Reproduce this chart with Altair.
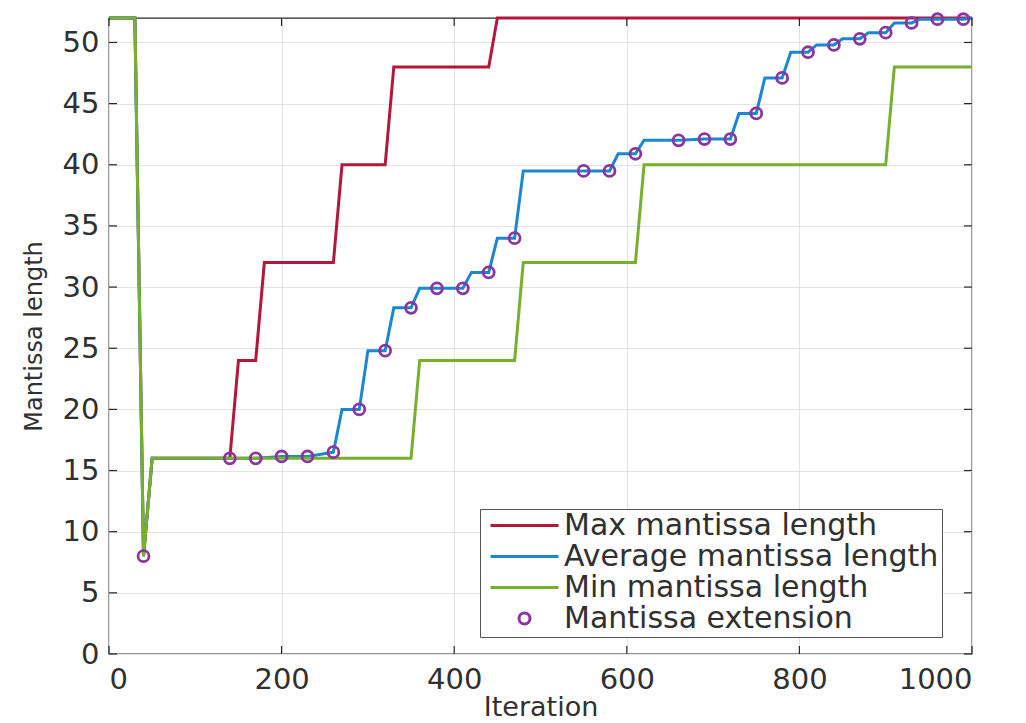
import altair as alt
import pandas as pd

# ---- data ----
max_x = [0, 30, 40, 50, 140, 150, 170, 180, 260, 270, 320, 330, 440, 450, 1000]
max_y = [52, 52, 8, 16, 16, 24, 24, 32, 32, 40, 40, 48, 48, 52, 52]

min_x = [0, 30, 40, 50, 350, 360, 470, 480, 610, 620, 900, 910, 1000]
min_y = [52, 52, 8, 16, 16, 24, 24, 32, 32, 40, 40, 48, 48]

avg_x = [0, 30, 40, 50, 140, 170, 200, 230, 260, 270, 290, 300, 320, 330, 350, 360,
         380, 410, 420, 440, 450, 470, 480, 550, 580, 590, 610, 620, 660, 690, 720,
         730, 750, 760, 780, 790, 810, 820, 840, 850, 870, 880, 900, 910, 930, 940,
         960, 990, 1000]
avg_y = [52, 52, 8, 16, 16, 16, 16.15, 16.15, 16.5, 20, 20, 24.8, 24.8, 28.3, 28.3, 29.9,
         29.9, 29.9, 31.2, 31.2, 34, 34, 39.5, 39.5, 39.5, 40.9, 40.9, 42, 42, 42.1, 42.1,
         44.2, 44.2, 47.1, 47.1, 49.2, 49.2, 49.8, 49.8, 50.3, 50.3, 50.8, 50.8, 51.6, 51.6, 51.9,
         51.9, 51.9, 52]

ext_x = [40, 140, 170, 200, 230, 260, 290, 320, 350, 380, 410, 440, 470, 550, 580, 610,
         660, 690, 720, 750, 780, 810, 840, 870, 900, 930, 960, 990]
ext_y = [8, 16, 16, 16.15, 16.15, 16.5, 20, 24.8, 28.3, 29.9, 29.9, 31.2, 34, 39.5, 39.5, 40.9,
         42, 42.1, 42.1, 44.2, 47.1, 49.2, 49.8, 50.3, 50.8, 51.6, 51.9, 51.9]

series_names = ["Max mantissa length", "Average mantissa length",
                "Min mantissa length", "Mantissa extension"]
series_colors = ["#b3173c", "#1b87d1", "#77b02f", "#8b35a0"]
legend_shapes = ["stroke", "stroke", "stroke", "circle"]
legend_sizes = [4624, 4624, 4624, 120]

x_ticks = [0, 200, 400, 600, 800, 1000]
y_ticks = [0, 5, 10, 15, 20, 25, 30, 35, 40, 45, 50]

W, H = 863, 636
FONT = "DejaVu Sans"
AX = "#262626"
TXT = "#303030"


def frame(xs, ys, name):
    return pd.DataFrame({"x": xs, "y": ys, "series": name})


df_max = frame(max_x, max_y, series_names[0])
df_avg = frame(avg_x, avg_y, series_names[1])
df_min = frame(min_x, min_y, series_names[2])
df_ext = frame(ext_x, ext_y, series_names[3])

xs = alt.Scale(domain=[0, 1000], nice=False, zero=False)
ys = alt.Scale(domain=[0, 52], nice=False, zero=False)

leg = alt.Legend(
    title=None, orient="none", legendX=371, legendY=491,
    direction="vertical", columns=1,
    symbolType="stroke", symbolStrokeWidth=3, symbolSize=4624,
    labelFont=FONT, labelFontSize=30, labelColor=TXT, labelOffset=4,
    labelLimit=600,
    padding=3, clipHeight=27, rowPadding=0, symbolOffset=6,
    strokeColor="#555555", fillColor="white",
)

color = alt.Color("series:N", scale=alt.Scale(domain=series_names, range=series_colors),
                  legend=leg)

xenc = alt.X("x:Q", scale=xs,
             axis=alt.Axis(values=x_ticks, title="Iteration", grid=True, ticks=False,
                           domain=False, labelPadding=11, titlePadding=0,
                           labelFontSize=29, titleFontSize=27, format="d"))
yenc = alt.Y("y:Q", scale=ys,
             axis=alt.Axis(values=y_ticks, title="Mantissa length", grid=True, ticks=False,
                           domain=False, labelPadding=10, titlePadding=16,
                           labelFontSize=29, titleFontSize=24))


def line_layer(df):
    return alt.Chart(df).mark_line(strokeWidth=3).encode(x=xenc, y=yenc, color=color)


points = alt.Chart(df_ext).mark_point(filled=False, strokeWidth=2.8, opacity=1).encode(
    x=alt.X("x:Q", scale=xs),
    y=alt.Y("y:Q", scale=ys),
    color=color,
    shape=alt.Shape("series:N", scale=alt.Scale(domain=series_names, range=legend_shapes),
                    legend=leg),
    size=alt.Size("series:N", scale=alt.Scale(type="ordinal", domain=series_names,
                                               range=legend_sizes),
                  legend=leg),
)

df_xt = pd.DataFrame({"v": x_ticks})
df_yt = pd.DataFrame({"v": y_ticks})
TL = 8
tick_style = dict(color=AX, strokeWidth=1.2)
xt_bottom = alt.Chart(df_xt).mark_rule(**tick_style).encode(
    x=alt.X("v:Q", scale=xs), y=alt.value(H - TL), y2=alt.value(H))
xt_top = alt.Chart(df_xt).mark_rule(**tick_style).encode(
    x=alt.X("v:Q", scale=xs), y=alt.value(0), y2=alt.value(TL))
yt_left = alt.Chart(df_yt).mark_rule(**tick_style).encode(
    y=alt.Y("v:Q", scale=ys), x=alt.value(0), x2=alt.value(TL))
yt_right = alt.Chart(df_yt).mark_rule(**tick_style).encode(
    y=alt.Y("v:Q", scale=ys), x=alt.value(W - TL), x2=alt.value(W))

chart = alt.layer(
    line_layer(df_max), line_layer(df_avg), line_layer(df_min), points,
    xt_bottom, xt_top, yt_left, yt_right,
).properties(
    width=W, height=H,
    autosize=alt.AutoSizeParams(type="none"),
    padding={"left": 109, "top": 18, "right": 1026 - 109 - W, "bottom": 723 - 18 - H},
    background="white",
).configure_view(
    stroke=AX, strokeWidth=1.3
).configure_axis(
    labelFont=FONT, titleFont=FONT, labelColor=TXT, titleColor=TXT,
    titleFontWeight="normal", gridColor="#e3e3e3", gridWidth=1,
).configure_legend(
    labelFont=FONT
)

chart.save("out.html", embed_options={"renderer": "svg", "actions": False})
